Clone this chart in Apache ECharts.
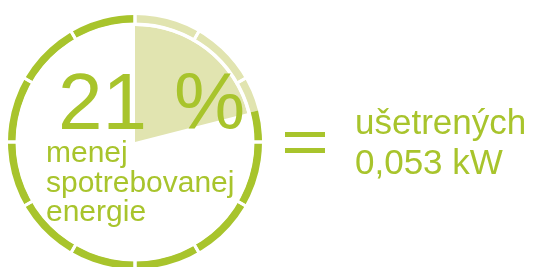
<!DOCTYPE html>
<html>
<head>
<meta charset="utf-8">
<script src="https://cdn.jsdelivr.net/npm/echarts@6/dist/echarts.min.js"></script>
<style>
  html, body { margin: 0; padding: 0; background: #fff; }
  #chart { width: 534px; height: 267px; }
</style>
</head>
<body>
<div id="chart"></div>
<script>
  // share of saved energy vs the rest
  var shareNames = ['menej', 'zvyšok']
  var shareValues = [21, 79]
  // the outer ring is cut into 12 equal pieces
  var ringPieces = [1, 1, 1, 1, 1, 1, 1, 1, 1, 1, 1, 1]
  var bigText = ['21', '%']
  var captionLines = ['menej', 'spotrebovanej', 'energie']
  var resultLines = ['ušetrených', '0,053 kW']

  var green = '#a8c42c'
  var pale = '#e1e4b0'
  var font = '"Liberation Sans", Arial, sans-serif'

  // text placed by its baseline (bottom of box minus descent)
  function label (str, x, baseline, size) {
    return {
      type: 'text', z: 100, x: x, y: baseline + Math.round(size * 0.212),
      style: { text: str, font: size + 'px ' + font, fill: green, textVerticalAlign: 'bottom' }
    }
  }

  var myChart = echarts.init(document.getElementById('chart'))
  myChart.setOption({
    animation: false,
    series: [
      {
        // the filled wedge
        type: 'pie',
        silent: true,
        center: [135, 142],
        radius: [0, 116],
        startAngle: 90,
        label: { show: false },
        labelLine: { show: false },
        data: shareValues.map(function (v, i) {
          return { name: shareNames[i], value: v, itemStyle: { color: i === 0 ? pale : 'rgba(0,0,0,0)' } }
        })
      },
      {
        // the ring
        type: 'pie',
        silent: true,
        center: [135, 142],
        radius: [119.5, 127],
        startAngle: 90,
        label: { show: false },
        labelLine: { show: false },
        data: shareValues.map(function (v, i) {
          return { name: shareNames[i], value: v, itemStyle: { color: i === 0 ? pale : green } }
        })
      },
      {
        // white cuts across the ring
        type: 'pie',
        silent: true,
        center: [135, 142],
        radius: [117.5, 132],
        startAngle: 90,
        label: { show: false },
        labelLine: { show: false },
        itemStyle: { color: 'rgba(0,0,0,0)', borderColor: '#fff', borderWidth: 3 },
        data: ringPieces.map(function (v) { return { value: v } })
      }
    ],
    graphic: [
      label(bigText[0], 58, 130, 80),
      label(bigText[1], 174, 130, 80),
      label(captionLines[0], 46, 163, 30),
      label(captionLines[1], 46, 193, 30),
      label(captionLines[2], 46, 222, 30),
      { type: 'rect', z: 100, shape: { x: 285, y: 132, width: 40, height: 5 }, style: { fill: green } },
      { type: 'rect', z: 100, shape: { x: 285, y: 148, width: 40, height: 5 }, style: { fill: green } },
      label(resultLines[0], 355, 135, 35),
      label(resultLines[1], 355, 175, 35)
    ]
  })
</script>
</body>
</html>
